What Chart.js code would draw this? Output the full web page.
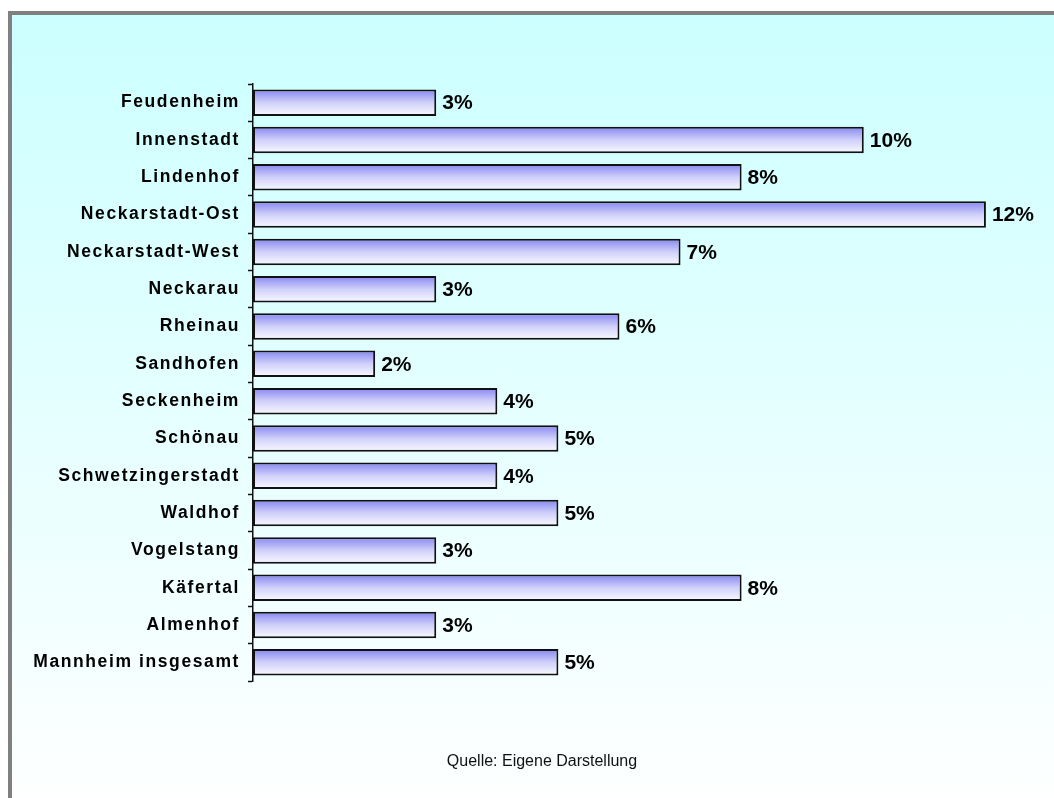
<!DOCTYPE html>
<html lang="de">
  <head>
    <meta charset="UTF-8" />
    <title>Anteil nach Stadtteil</title>
    <script src="https://cdn.jsdelivr.net/npm/chart.js"></script>
    <style>
      body { margin: 0; background: #fff; font-family: 'Liberation Sans', Arial, sans-serif; }
      #frame {
        position: absolute; left: 8px; top: 11px; width: 1060px; height: 800px;
        border-left: 4px solid #808080; border-top: 4px solid #808080;
        background: linear-gradient(to bottom, #ccffff 0%, #ffffff 100%);
      }
      #wrap { position: absolute; left: 0; top: 0; width: 1054px; height: 798px; }
      #quelle {
        position: absolute; left: 0; width: 1084px; top: 752px;
        text-align: center; font-size: 16px; color: #111;
      }
    </style>
  </head>
  <body>
    <div id="frame"></div>
    <div id="wrap"><canvas id="chart"></canvas></div>
    <div id="quelle">Quelle: Eigene Darstellung</div>

    <script>
      const stadtteile = [
        'Feudenheim', 'Innenstadt', 'Lindenhof', 'Neckarstadt-Ost', 'Neckarstadt-West',
        'Neckarau', 'Rheinau', 'Sandhofen', 'Seckenheim', 'Schönau',
        'Schwetzingerstadt', 'Waldhof', 'Vogelstang', 'Käfertal', 'Almenhof',
        'Mannheim insgesamt',
      ];
      const anteile = [3, 10, 8, 12, 7, 3, 6, 2, 4, 5, 4, 5, 3, 8, 3, 5];
      const xMax = 13;

      const barPct = 0.71;

      // vertikaler Verlauf je Balken (lila oben, fast weiss unten)
      function barFill(c) {
        const chart = c.chart;
        const y = chart.scales.y;
        if (!y || c.dataIndex === undefined) return '#b0b0ff';
        const mid = y.getPixelForValue(c.dataIndex);
        const h = (y.height / stadtteile.length) * barPct;
        if (!isFinite(mid) || !isFinite(h) || h <= 0) return '#b0b0ff';
        const g = chart.ctx.createLinearGradient(0, mid - h / 2, 0, mid + h / 2);
        g.addColorStop(0, '#8585f2');
        g.addColorStop(0.5, '#d0d0fa');
        g.addColorStop(1, '#fafaff');
        return g;
      }

      const spacing = {
        id: 'spacing',
        beforeDraw(chart) {
          chart.ctx.letterSpacing = '1.6px';
        },
      };

      const valueLabels = {
        id: 'valueLabels',
        afterDatasetsDraw(chart) {
          const ctx = chart.ctx;
          ctx.save();
          ctx.letterSpacing = '0px';
          ctx.font = "bold 21px 'Liberation Sans', Arial, sans-serif";
          ctx.fillStyle = '#000';
          ctx.textBaseline = 'middle';
          ctx.textAlign = 'left';
          chart.getDatasetMeta(0).data.forEach((el, i) => {
            ctx.fillText(anteile[i] + '%', el.x + 6, el.y + 1);
          });
          ctx.restore();
        },
      };

      new Chart(document.getElementById('chart'), {
        type: 'bar',
        data: {
          labels: stadtteile,
          datasets: [
            {
              data: anteile,
              backgroundColor: barFill,
              borderColor: '#111',
              borderWidth: 2,
              borderSkipped: false,
              barPercentage: barPct,
              categoryPercentage: 1,
            },
          ],
        },
        options: {
          indexAxis: 'y',
          responsive: true,
          maintainAspectRatio: false,
          animation: false,
          layout: { padding: { top: 84, bottom: 117, left: 0, right: 7 } },
          plugins: {
            legend: { display: false },
            tooltip: { enabled: false },
          },
          scales: {
            x: { display: false, min: 0, max: xMax },
            y: {
              afterFit(scale) { scale.width = 253; },
              border: { display: true, color: '#111', width: 1.5 },
              grid: {
                offset: true,
                drawOnChartArea: false,
                tickLength: 5,
                tickWidth: 1.5,
                color: '#111',
              },
              ticks: {
                autoSkip: false,
                padding: 8,
                color: '#000',
                font: { family: "'Liberation Sans', Arial, sans-serif", size: 17.5, weight: 'bold' },
              },
            },
          },
        },
        plugins: [spacing, valueLabels],
      });
    </script>
  </body>
</html>
